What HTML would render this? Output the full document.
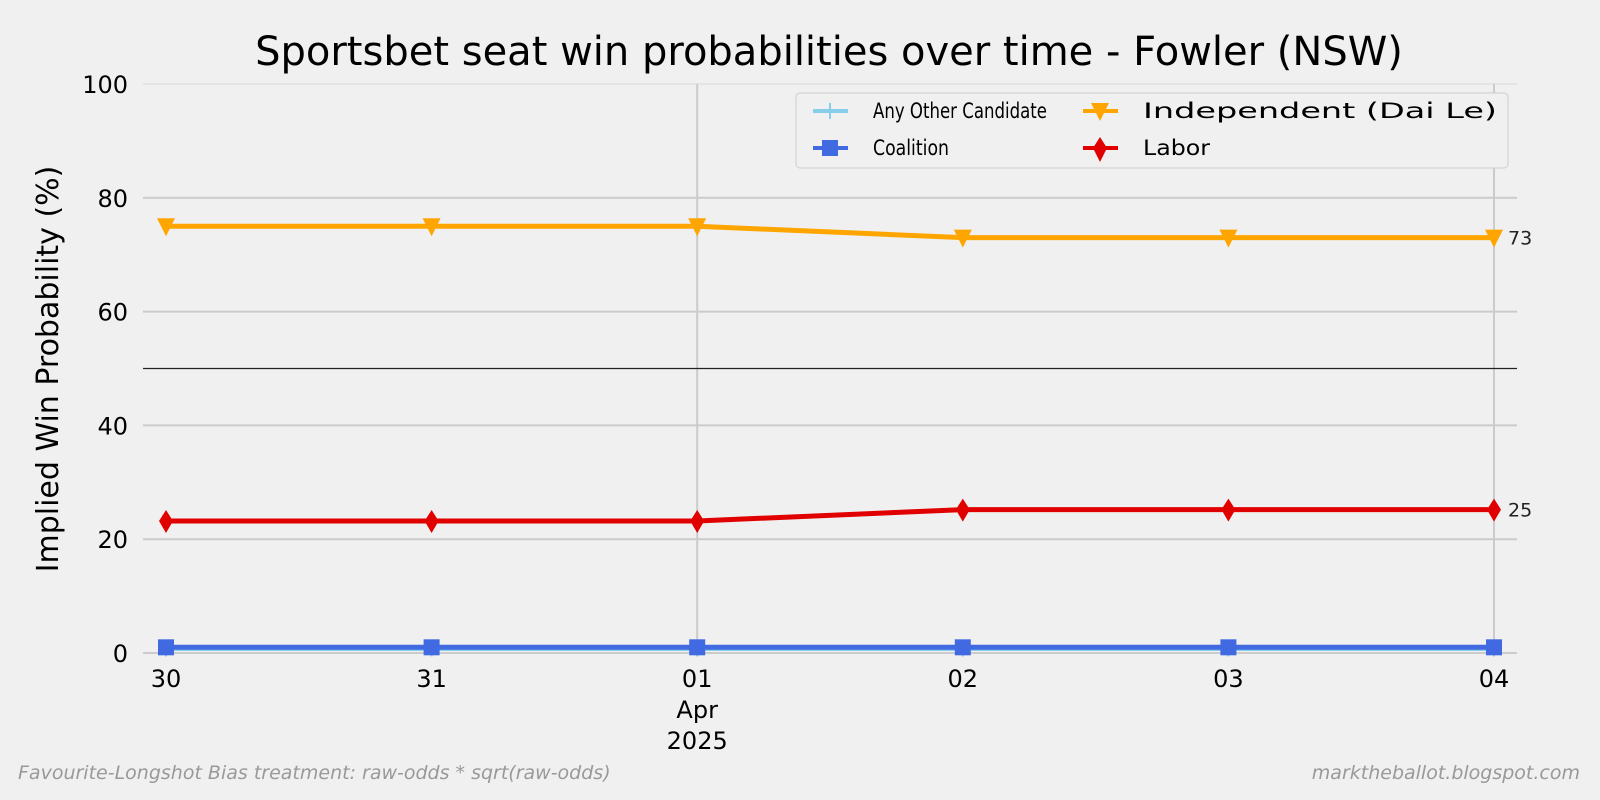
<!DOCTYPE html>
<html><head><meta charset="utf-8"><style>
html,body{margin:0;padding:0;background:#f0f0f0;}
svg{display:block;font-family:"DejaVu Sans","Liberation Sans",sans-serif;}
</style></head><body>
<svg id="chart" width="1600" height="800" xmlns="http://www.w3.org/2000/svg">
<rect width="1600" height="800" fill="#f0f0f0"/>
<text x="829" y="65" font-size="40" text-anchor="middle" fill="#000">Sportsbet seat win probabilities over time - Fowler (NSW)</text>
<text transform="translate(58,369) rotate(-90)" font-size="30" text-anchor="middle">Implied Win Probability (%)</text>
<g id="grid"></g>
<g id="axes"></g>
<g id="series"></g>
<g>
<rect x="796" y="93" width="712" height="75" rx="4" fill="#f0f0f0" stroke="#cccccc"/>
<g><line x1="813" y1="111" x2="848" y2="111" stroke="#87ceeb" stroke-width="4"/><line x1="830" y1="103" x2="830" y2="119" stroke="#87ceeb" stroke-width="2"/><text x="873" y="118" font-size="21" textLength="174" lengthAdjust="spacingAndGlyphs">Any Other Candidate</text></g>
<g><line x1="813" y1="148" x2="848" y2="148" stroke="#4169e1" stroke-width="4"/><rect x="822" y="140" width="16" height="16" fill="#4169e1"/><text x="873" y="155" font-size="21" textLength="76" lengthAdjust="spacingAndGlyphs">Coalition</text></g>
<g><line x1="1083" y1="111" x2="1118" y2="111" stroke="#ffa500" stroke-width="4"/><path d="M1091,103 L1109,103 L1100,121 Z" fill="#ffa500"/><text x="1143" y="118" font-size="21" textLength="355" lengthAdjust="spacingAndGlyphs" style="display:none"></text><text x="1143" y="118" font-size="21" textLength="354" lengthAdjust="spacingAndGlyphs" style="display:none"></text><text x="1143" y="118" font-size="21" textLength="354" lengthAdjust="spacingAndGlyphs" visibility="hidden"></text><text x="1143" y="118" font-size="21" textLength="354" lengthAdjust="spacingAndGlyphs" style="display:none"></text><text x="1143" y="118" font-size="21" textLength="355" lengthAdjust="spacingAndGlyphs" style="display:none"></text><text x="1143" y="118" font-size="21" textLength="354" lengthAdjust="spacingAndGlyphs">Independent (Dai Le)</text></g>
<g><line x1="1083" y1="148" x2="1118" y2="148" stroke="#e00000" stroke-width="4"/><path d="M1100,137 L1107,148 L1100,162 L1093,148 Z" fill="#e00000"/><text x="1143" y="155" font-size="21" textLength="67" lengthAdjust="spacingAndGlyphs">Labor</text></g>
</g>
<text x="18" y="779" font-size="19" font-style="italic" fill="#999">Favourite-Longshot Bias treatment: raw-odds * sqrt(raw-odds)</text>
<text x="1580" y="779" font-size="19" font-style="italic" fill="#999" text-anchor="end">marktheballot.blogspot.com</text>
<script>
const dates = ["30","31","01","02","03","04"];
const independent = [75,75,75,73,73,73];
const labor = [23.2,23.2,23.2,25.2,25.2,25.2];
const coalition = [1,1,1,1,1,1];
const anyOther = [0.8,0.8,0.8,0.8,0.8,0.8];
const yTicks = [0,20,40,60,80,100];
const endLabels = ["73","25"];

const NS="http://www.w3.org/2000/svg";
const X0=166, X1=1494, Y0=653, Y100=84;
const xs=i=>X0+(X1-X0)*i/(dates.length-1);
const ys=v=>Y0+(Y100-Y0)*v/100;
function mk(tag,attrs,parent){const e=document.createElementNS(NS,tag);for(const k in attrs)e.setAttribute(k,attrs[k]);parent.appendChild(e);return e;}
const grid=document.getElementById('grid'), axes=document.getElementById('axes'), ser=document.getElementById('series');
yTicks.forEach(t=>{
  const l=mk('line',{x1:143,x2:1517,y1:ys(t),y2:ys(t),stroke:t===100?'#e4e4e4':'#cbcbcb','stroke-width':2},grid);
  
  
  const tx=mk('text',{x:128,y:ys(t)+9,'font-size':24,'text-anchor':'end'},axes);
  tx.textContent=t;
  
  
});
dates.forEach((d,i)=>{
  if(d==="01"||i===dates.length-1){
    const l=mk('line',{x1:xs(i),x2:xs(i),y1:84,y2:653,stroke:'#cbcbcb','stroke-width':2},grid);
    
    
  }
  const tx=mk('text',{x:xs(i),y:687,'font-size':24,'text-anchor':'middle'},axes);
  tx.textContent=d;
  
  
  if(d==="01"){
    const a=mk('text',{x:xs(i),y:718,'font-size':24,'text-anchor':'middle'},axes);a.textContent="Apr";
    
    
    const b=mk('text',{x:xs(i),y:749,'font-size':24,'text-anchor':'middle'},axes);b.textContent="2025";
    
    
  }
});
const ref=mk('line',{x1:143,x2:1517,y1:ys(50),y2:ys(50),stroke:'#222','stroke-width':1.2},grid);



function series(vals,color,marker,name){
  const g=mk('g',{},ser);
  
  
  mk('polyline',{points:vals.map((v,i)=>xs(i)+','+ys(v)).join(' '),fill:'none',stroke:color,'stroke-width':5},g);
  vals.forEach((v,i)=>{
    const x=xs(i),y=ys(v);let m;
    if(marker==='sq')m=mk('rect',{x:x-8,y:y-8,width:16,height:16,fill:color},g);
    else if(marker==='tri')m=mk('path',{d:`M${x-9},${y-8} L${x+9},${y-8} L${x},${y+10} Z`,fill:color},g);
    else if(marker==='dia')m=mk('path',{d:`M${x},${y-11} L${x+7},${y} L${x},${y+12} L${x-7},${y} Z`,fill:color},g);
    else m=mk('path',{d:`M${x},${y-8} L${x},${y+8}`,stroke:color,'stroke-width':2},g);
    
    
  });
}
series(anyOther,'#87ceeb','plus','series-any-other');
series(coalition,'#4169e1','sq','series-coalition');
series(independent,'#ffa500','tri','series-independent');
series(labor,'#e00000','dia','series-labor');
[independent,labor].forEach((s,k)=>{
  const t=mk('text',{x:1508,y:ys(s[s.length-1])+7,'font-size':19,fill:'#222'},ser);
  t.textContent=endLabels[k];
  
  
});
</script>
</svg>
</body></html>
